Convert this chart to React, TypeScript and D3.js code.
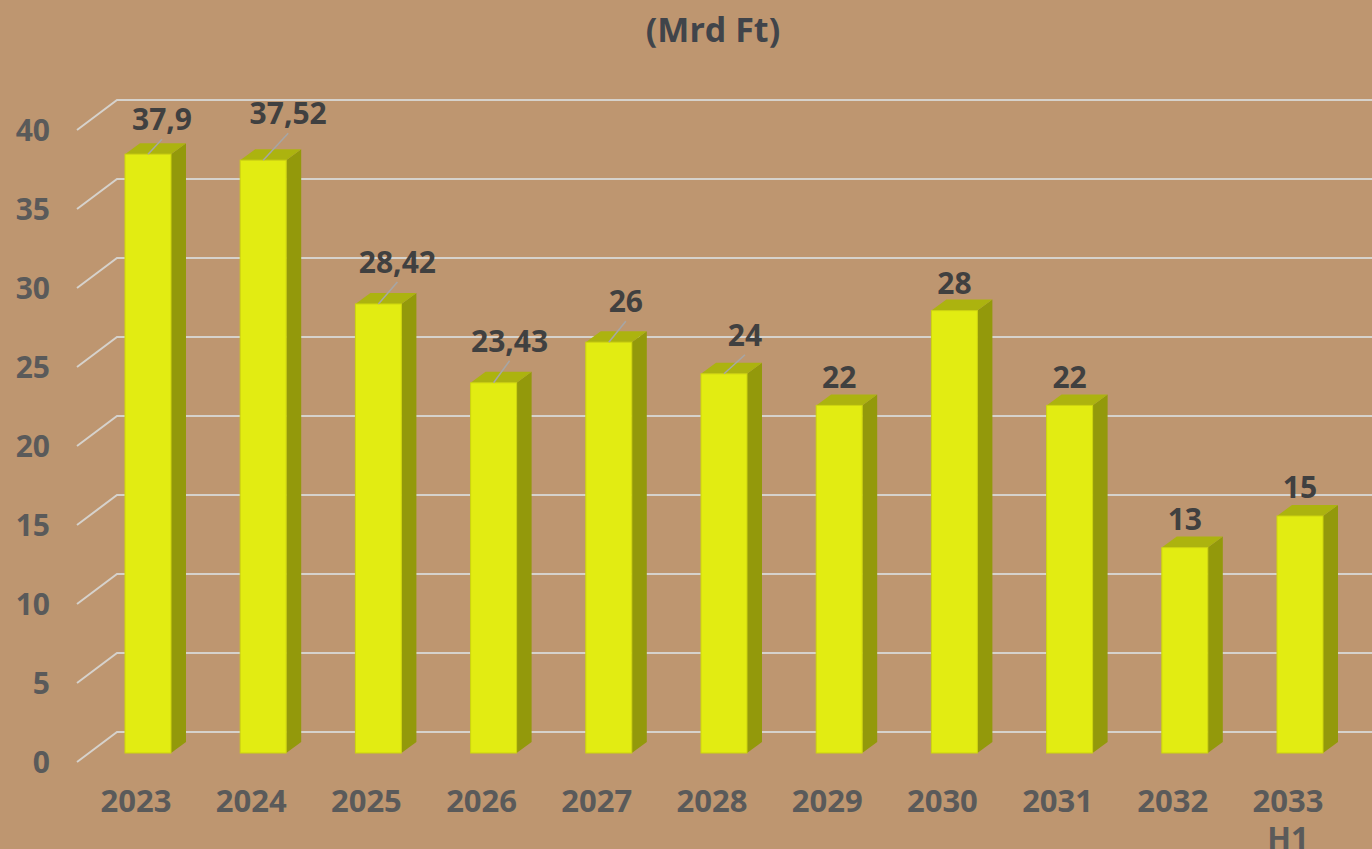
import React, { useEffect, useRef } from 'react'
import * as d3 from 'd3'

// kategoriák és értékek (Mrd Ft)
const years = ['2023', '2024', '2025', '2026', '2027', '2028', '2029', '2030', '2031', '2032', '2033\nH1']
const values = [37.9, 37.52, 28.42, 23.43, 26, 24, 22, 28, 22, 13, 15]
const valueLabels = ['37,9', '37,52', '28,42', '23,43', '26', '24', '22', '28', '22', '13', '15']
const yTicks = [0, 5, 10, 15, 20, 25, 30, 35, 40]

// manually dragged data labels: [dx, rise above bar top, has leader line]
const labelNudge: [number, number, boolean][] = [
  [14, 24, true], [25, 36, true], [19, 31, true], [16, 31, true], [17, 30, true], [21, 28, true],
  [0, 17, false], [0, 17, false], [0, 17, false], [0, 18, false], [0, 18, false]
]

const W = 1372, H = 849

export default function App() {
  const ref = useRef<SVGSVGElement>(null)

  useEffect(() => {
    const svg = d3.select(ref.current)
    svg.selectAll('*').remove()

    const font = "'Open Sans', 'DejaVu Sans', sans-serif"
    const bg = '#BE9670'
    const barW = 46, depthX = 15, depthY = 11
    const wallDx = 40, wallDy = 30, backOff = 21

    const x = d3.scalePoint<string>().domain(years).range([148, 1300])
    const y = d3.scaleLinear([0, 40], [753, 121])

    svg.append('rect').attr('width', W).attr('height', H).attr('fill', bg)

    // title
    svg.append('text')
      .attr('x', 713).attr('y', 42)
      .attr('text-anchor', 'middle')
      .attr('font-family', font).attr('font-weight', 700).attr('font-size', 34)
      .attr('fill', '#40444A')
      .text('(Mrd Ft)')

    // gridlines on the back wall + the side wall diagonal
    const grid = svg.append('g').attr('stroke', '#D6D2CC').attr('stroke-width', 2).attr('fill', 'none')
    yTicks.forEach(t => {
      const yb = y(t) - backOff
      grid.append('path').attr('d', `M${117 - wallDx},${yb + wallDy}L117,${yb}L${W},${yb}`)
    })

    // y axis labels
    svg.append('g')
      .selectAll('text')
      .data(yTicks)
      .join('text')
      .attr('x', 50)
      .attr('y', d => y(d) - backOff + wallDy + 11)
      .attr('text-anchor', 'end')
      .attr('font-family', font).attr('font-weight', 700).attr('font-size', 30)
      .attr('fill', '#5A5A5A')
      .text(d => d)

    // bars
    const bars = svg.append('g')
      .selectAll('g')
      .data(years.map((c, i) => ({ c, v: values[i], i })))
      .join('g')

    bars.each(function (d) {
      const g = d3.select(this)
      const x0 = x(d.c)! - barW / 2, x1 = x0 + barW
      const top = y(d.v), bot = y(0)
      g.append('path')
        .attr('d', `M${x1},${top}L${x1 + depthX},${top - depthY}L${x1 + depthX},${bot - depthY}L${x1},${bot}Z`)
        .attr('fill', '#93990B')
      g.append('path')
        .attr('d', `M${x0},${top}L${x0 + depthX},${top - depthY}L${x1 + depthX},${top - depthY}L${x1},${top}Z`)
        .attr('fill', '#ACB30F')
      g.append('rect')
        .attr('x', x0).attr('y', top).attr('width', barW).attr('height', bot - top)
        .attr('fill', '#E2EC12').attr('stroke', '#CDD40F').attr('stroke-width', 1)
    })

    // data labels
    bars.each(function (d) {
      const g = d3.select(this)
      const [dx, rise, leader] = labelNudge[d.i]
      const cx = x(d.c)!, top = y(d.v)
      const lx = cx + dx, ly = top - rise
      if (leader) {
        g.append('line')
          .attr('x1', cx).attr('y1', top).attr('x2', lx).attr('y2', ly + 9)
          .attr('stroke', '#A6A6A6').attr('stroke-width', 1.5)
      }
      g.append('text')
        .attr('x', lx).attr('y', ly)
        .attr('text-anchor', 'middle')
        .attr('font-family', font).attr('font-weight', 700).attr('font-size', 30)
        .attr('fill', '#404040')
        .text(valueLabels[d.i])
    })

    // x axis labels
    svg.append('g')
      .selectAll('text')
      .data(years)
      .join('text')
      .attr('text-anchor', 'middle')
      .attr('font-family', font).attr('font-weight', 700).attr('font-size', 31)
      .attr('fill', '#5A5A5A')
      .each(function (d) {
        const t = d3.select(this)
        d.split('\n').forEach((line, k) => {
          t.append('tspan').attr('x', x(d)! - 12).attr('y', 812 + k * 37).text(line)
        })
      })
  }, [])

  return (
    <div style={{ position: 'absolute', left: 0, top: 0 }}>
      <svg ref={ref} width={W} height={H} style={{ display: 'block' }} />
    </div>
  )
}
